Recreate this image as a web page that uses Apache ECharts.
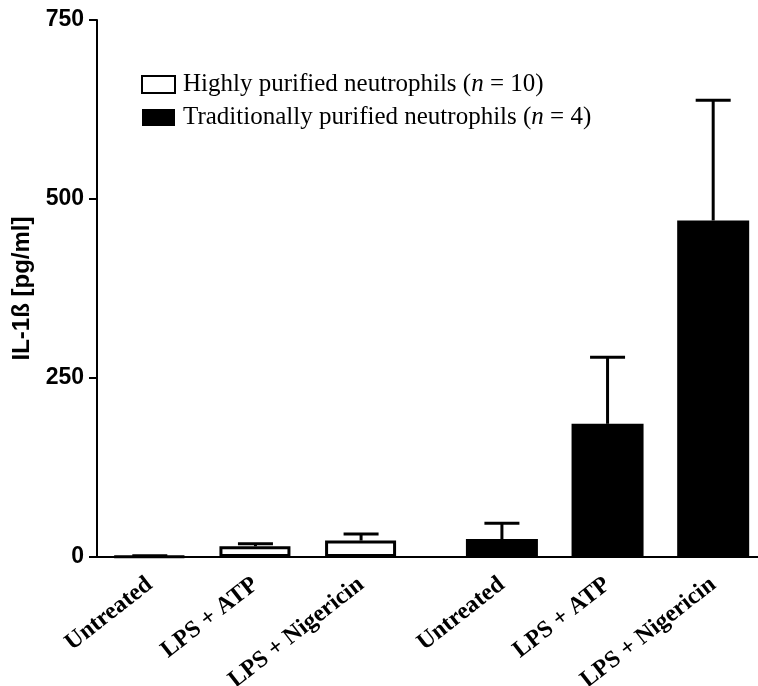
<!DOCTYPE html>
<html>
<head>
<meta charset="utf-8">
<script src="https://cdn.jsdelivr.net/npm/echarts@6/dist/echarts.min.js"></script>
<style>html,body{margin:0;padding:0;background:#fff}#c{width:758px;height:686px}</style>
</head>
<body>
<div id="c"></div>
<script>
// ---- data ----
const categories = ['Untreated', 'LPS + ATP', 'LPS + Nigericin'];
const groupNames = ['Highly purified neutrophils', 'Traditionally purified neutrophils'];
const groupN = [10, 4];
const highlyMean = [1, 15, 23];
const highlySD = [0.8, 3.5, 9];
const tradMean = [25, 186, 470];
const tradSD = [22, 93, 168];
const yTicks = [0, 250, 500, 750];

// ---- layout of category slots (gap between the two groups) ----
const SLOTS_PER_CAT = 3;
const groupStart = [1, 11];
const TOTAL_SLOTS = 19;
const slotLabels = new Array(TOTAL_SLOTS).fill('');
const slotOf = (g, i) => groupStart[g] + SLOTS_PER_CAT * i;
categories.forEach((c, i) => { slotLabels[slotOf(0, i)] = c; slotLabels[slotOf(1, i)] = c; });

const means = [highlyMean, tradMean];
const sds = [highlySD, tradSD];
const barData = means.map((arr, g) => arr.map((v, i) => [slotOf(g, i), v]));
const errData = [];
means.forEach((arr, g) => arr.forEach((v, i) => errData.push([slotOf(g, i), v, sds[g][i]])));

const chart = echarts.init(document.getElementById('c'));
chart.setOption({
  animation: false,
  backgroundColor: '#fff',
  grid: { left: 97, width: 669, top: 20, height: 537, containLabel: false, outerBoundsMode: 'none' },
  legend: {
    orient: 'vertical',
    left: 136, top: 67,
    itemWidth: 33, itemHeight: 17, itemGap: 8,
    icon: 'rect',
    data: groupNames,
    formatter: name => {
      const g = groupNames.indexOf(name);
      return name + ' ({i|n} = ' + groupN[g] + ')';
    },
    textStyle: {
      fontFamily: 'Liberation Serif', fontSize: 25, color: '#000', padding: [0, 0, 0, 3],
      rich: { i: { fontFamily: 'Liberation Serif', fontStyle: 'italic', fontSize: 25, color: '#000' } }
    }
  },
  xAxis: {
    type: 'category',
    data: slotLabels,
    boundaryGap: true,
    axisLine: { lineStyle: { color: '#000', width: 2 } },
    axisTick: { alignWithLabel: true, length: 8, lineStyle: { color: '#000', width: 2 },
      interval: (idx, val) => val !== '' },
    axisLabel: {
      interval: (idx, val) => val !== '',
      rotate: 38, margin: 25,
      fontFamily: 'Liberation Serif', fontWeight: 'bold', fontSize: 24, color: '#000'
    },
    splitLine: { show: false }
  },
  yAxis: {
    type: 'value',
    min: yTicks[0], max: yTicks[yTicks.length - 1], interval: yTicks[1] - yTicks[0],
    name: 'IL-1ß [pg/ml]',
    nameLocation: 'middle', nameGap: 62,
    nameTextStyle: { fontFamily: 'Liberation Sans', fontWeight: 'bold', fontSize: 24, color: '#000' },
    axisLine: { show: true, lineStyle: { color: '#000', width: 2 } },
    axisTick: { show: true, length: 8, lineStyle: { color: '#000', width: 2 } },
    axisLabel: { margin: 13, fontFamily: 'Liberation Sans', fontWeight: 'bold', fontSize: 23, color: '#000' },
    splitLine: { show: false }
  },
  series: [
    {
      name: groupNames[0], type: 'bar', data: barData[0], barWidth: 71, barGap: '-100%',
      itemStyle: { color: '#fff', borderColor: '#000', borderWidth: 3 }, z: 2
    },
    {
      name: groupNames[1], type: 'bar', data: barData[1], barWidth: 72, barGap: '-100%',
      itemStyle: { color: '#000' }, z: 2
    },
    {
      type: 'custom', data: errData, z: 3,
      renderItem: (params, api) => {
        const x = api.value(0), m = api.value(1), s = api.value(2);
        const p0 = api.coord([x, m]);
        const p1 = api.coord([x, m + s]);
        const hw = 17.5;
        return {
          type: 'group',
          children: [
            { type: 'line', shape: { x1: p0[0], y1: p0[1], x2: p1[0], y2: p1[1] }, style: { stroke: '#000', lineWidth: 3 } },
            { type: 'line', shape: { x1: p1[0] - hw, y1: p1[1], x2: p1[0] + hw, y2: p1[1] }, style: { stroke: '#000', lineWidth: 3 } }
          ]
        };
      }
    }
  ]
});
</script>
</body>
</html>
